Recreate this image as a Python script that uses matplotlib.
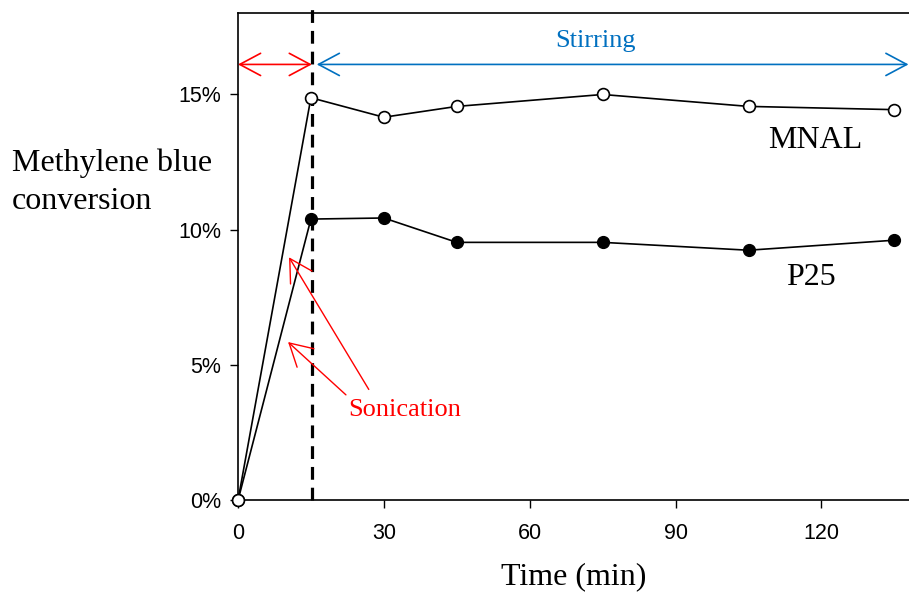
import numpy as np
import matplotlib
matplotlib.use("Agg")
import matplotlib.pyplot as plt
from matplotlib.ticker import FuncFormatter

time_min = [0, 15, 30, 45, 75, 105, 135]
mnal = [0, 14.87, 14.15, 14.55, 14.99, 14.55, 14.43]
p25 = [0, 10.39, 10.43, 9.53, 9.53, 9.24, 9.61]

serif = ['Liberation Serif', 'DejaVu Serif']
sans = ['Liberation Sans', 'DejaVu Sans']
blue = '#0070C0'
red = '#FF0000'

fig = plt.figure(figsize=(9.09, 5.92), dpi=100)
ax = fig.add_axes([0.2618, 0.1546, 0.7382, 0.8235])

ax.plot(time_min, p25, '-o', color='black', lw=1.2, ms=8.5,
        mfc='black', mec='black', clip_on=False, zorder=3)
ax.plot(time_min, mnal, '-o', color='black', lw=1.2, ms=8.5,
        mfc='white', mec='black', mew=1.2, clip_on=False, zorder=4)

ax.axvline(15.2, ymin=0, ymax=1.01, color='black', lw=2.3,
           dashes=(4, 2.5), clip_on=False, zorder=2)

ax.set_xlim(0, 138)
ax.set_ylim(0, 18)
ax.set_xticks([0, 30, 60, 90, 120])
ax.set_yticks([0, 5, 10, 15])
ax.yaxis.set_major_formatter(FuncFormatter(lambda v, p: '%d%%' % v))
ax.tick_params(direction='out', length=6, width=1, labelsize=15.5)
ax.tick_params(axis='x', pad=10)
ax.tick_params(axis='y', pad=6)
for lab in ax.get_xticklabels() + ax.get_yticklabels():
    lab.set_family(sans)
ax.spines['right'].set_visible(False)
for s in ['left', 'top', 'bottom']:
    ax.spines[s].set_linewidth(1.2)

ax.set_xlabel('Time (min)', family=serif, fontsize=23, labelpad=13)
fig.text(0.013, 0.692, 'Methylene blue\nconversion', family=serif,
         fontsize=23, ha='left', va='center', linespacing=1.38)

# phase arrows
ax.annotate('', xy=(0, 16.1), xytext=(15.2, 16.1),
            arrowprops=dict(arrowstyle='<->,head_length=0.75,head_width=0.4',
                            color=red, lw=1.2, mutation_scale=20,
                            shrinkA=0, shrinkB=0), annotation_clip=False)
ax.annotate('', xy=(16.2, 16.1), xytext=(137.9, 16.1),
            arrowprops=dict(arrowstyle='<->,head_length=0.75,head_width=0.4',
                            color=blue, lw=1.2, mutation_scale=20,
                            shrinkA=0, shrinkB=0), annotation_clip=False)
ax.text(73.5, 16.95, 'Stirring', color=blue, family=serif, fontsize=19,
        ha='center', va='center')

# sonication pointers
ax.annotate('', xy=(10.5, 8.98), xytext=(26.9, 4.1),
            arrowprops=dict(arrowstyle='->,head_length=0.8,head_width=0.45',
                            color=red, lw=1.0, mutation_scale=20,
                            shrinkA=0, shrinkB=0))
ax.annotate('', xy=(10.3, 5.85), xytext=(22.2, 3.9),
            arrowprops=dict(arrowstyle='->,head_length=0.8,head_width=0.45',
                            color=red, lw=1.0, mutation_scale=20,
                            shrinkA=0, shrinkB=0))
ax.text(34.2, 3.35, 'Sonication', color=red, family=serif, fontsize=19,
        ha='center', va='center')

ax.text(118.8, 13.3, 'MNAL', family=serif, fontsize=23, ha='center', va='center')
ax.text(117.8, 8.25, 'P25', family=serif, fontsize=23, ha='center', va='center')

plt.savefig('out.png', dpi=100)
